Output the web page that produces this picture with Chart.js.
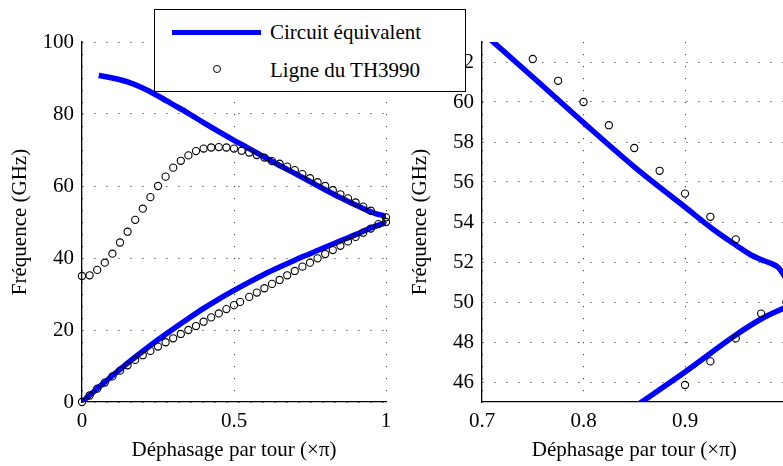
<!DOCTYPE html>
<html>
<head>
<meta charset="utf-8">
<script src="https://cdn.jsdelivr.net/npm/chart.js@4.4.0/dist/chart.umd.min.js"></script>
<style>
  body { margin: 0; width: 783px; height: 466px; overflow: hidden; background: #fff; position: relative;
         font-family: 'Liberation Serif', 'Times New Roman', serif; }
  canvas { position: absolute; top: 0; }
  #leftChart { left: 0; }
  #rightChart { left: 400px; }
  #legendBox { position: absolute; left: 154px; top: 9px; width: 312px; height: 83px; box-sizing: border-box;
               border: 1.5px solid #000; background: #fff; }
  #legendLine { position: absolute; left: 172px; top: 29.5px; width: 89px; height: 5px; background: #0000ff; }
  #legendCircle { position: absolute; left: 212.5px; top: 65px; width: 8px; height: 8px; box-sizing: border-box;
                  border: 1.2px solid #000; border-radius: 50%; }
  .legendText { position: absolute; left: 270px; font-size: 21px; line-height: 21px; white-space: nowrap; color: #000; }
</style>
</head>
<body>
<canvas id="leftChart" width="400" height="466"></canvas>
<canvas id="rightChart" width="400" height="466"></canvas>
<div id="legendBox"></div>
<div id="legendLine"></div>
<span class="legendText" style="top:22px">Circuit équivalent</span>
<div id="legendCircle"></div>
<span class="legendText" style="top:60px">Ligne du TH3990</span>
<script>
// Circuit équivalent : branche haute et branche basse
const lineUpperX = [0.055, 0.1, 0.15, 0.2, 0.25, 0.3, 0.35, 0.4, 0.45, 0.5, 0.55, 0.6, 0.65, 0.7,
  0.75, 0.8, 0.85, 0.9, 0.93, 0.95, 0.965, 0.975, 0.985, 0.992, 1];
const lineUpperY = [90.7, 90.0, 88.9, 87.2, 85.0, 82.6, 80.2, 77.6, 75.1, 72.7, 70.4, 68.0, 65.7, 63.5,
  61.25, 58.97, 56.76, 54.75, 53.55, 52.85, 52.35, 52.12, 51.92, 51.72, 51.15];
const lineLowerX = [0, 0.05, 0.1, 0.15, 0.2, 0.25, 0.3, 0.35, 0.4, 0.45, 0.5, 0.55, 0.6, 0.65, 0.7,
  0.75, 0.8, 0.85, 0.9, 0.95, 0.975, 1];
const lineLowerY = [0, 3.7, 7.3, 10.8, 14.1, 17.3, 20.3, 23.2, 26.0, 28.6, 31.0, 33.3, 35.5, 37.5, 39.4,
  41.2, 43.0, 44.75, 46.5, 48.35, 49.15, 49.75];

// Ligne du TH3990 (cercles)
const circUpperX = [0, 0.025, 0.05, 0.075, 0.1, 0.125, 0.15, 0.175, 0.2, 0.225, 0.25, 0.275, 0.3, 0.325,
  0.35, 0.375, 0.4, 0.425, 0.45, 0.475, 0.5, 0.525, 0.55, 0.575, 0.6, 0.625, 0.65, 0.675, 0.7, 0.725,
  0.75, 0.775, 0.8, 0.825, 0.85, 0.875, 0.9, 0.925, 0.95, 1];
const circUpperY = [35.0, 35.2, 36.7, 38.7, 41.2, 44.3, 47.3, 50.6, 53.7, 56.9, 60.0, 62.6, 65.1, 67.0,
  68.5, 69.7, 70.4, 70.7, 70.8, 70.7, 70.4, 69.8, 69.3, 68.6, 67.9, 66.9, 66.2, 65.4, 64.4, 63.3,
  62.15, 61.06, 60.0, 58.84, 57.7, 56.56, 55.42, 54.26, 53.13, 51.3];
const circLowerX = [0, 0.025, 0.05, 0.075, 0.1, 0.125, 0.15, 0.175, 0.2, 0.225, 0.25, 0.275, 0.3, 0.325,
  0.35, 0.375, 0.4, 0.425, 0.45, 0.475, 0.5, 0.52, 0.55, 0.575, 0.6, 0.625, 0.65, 0.675, 0.7, 0.725,
  0.75, 0.775, 0.8, 0.825, 0.85, 0.875, 0.9, 0.925, 0.95, 0.975, 1];
const circLowerY = [0, 1.8, 3.7, 5.4, 7.1, 8.7, 10.2, 11.7, 13.0, 14.2, 15.4, 16.6, 17.7, 18.9,
  20.0, 21.1, 22.3, 23.5, 24.6, 25.8, 26.9, 27.8, 29.2, 30.4, 31.6, 32.8, 33.9, 35.2, 36.4, 37.6,
  38.7, 39.9, 41.1, 42.2, 43.4, 44.6, 45.85, 47.03, 48.18, 49.42, 50.0];

// Graduations
const leftXTicks = [0, 0.5, 1];
const leftYTicks = [0, 20, 40, 60, 80, 100];
const rightXTicks = [0.7, 0.8, 0.9, 1];
const rightYTicks = [46, 48, 50, 52, 54, 56, 58, 60, 62];

const serif = "'Liberation Serif', 'Times New Roman', serif";
Chart.defaults.color = '#000';
Chart.defaults.font.family = serif;
Chart.defaults.font.size = 21;

function toPoints(xs, ys) {
  return xs.map((x, i) => ({ x: x, y: ys[i] }));
}

function makeDatasets(pointClip) {
  const lineStyle = {
    label: 'Circuit équivalent', showLine: true, borderColor: '#0000ff', borderWidth: 5.5,
    pointRadius: 0, cubicInterpolationMode: 'monotone', borderJoinStyle: 'round', clip: 0, order: 2
  };
  const circleStyle = {
    label: 'Ligne du TH3990', showLine: false, pointRadius: 3.6, borderWidth: 1.1,
    borderColor: '#000', backgroundColor: 'rgba(0,0,0,0)', clip: pointClip, order: 1
  };
  return [
    Object.assign({ data: toPoints(lineUpperX, lineUpperY) }, lineStyle),
    Object.assign({ data: toPoints(lineLowerX, lineLowerY) }, lineStyle),
    Object.assign({ data: toPoints(circUpperX, circUpperY) }, circleStyle),
    Object.assign({ data: toPoints(circLowerX, circLowerY) }, circleStyle)
  ];
}

function axis(pos, min, max, ticks, title) {
  const horiz = pos === 'bottom';
  return {
    type: 'linear', position: pos, min: min, max: max,
    afterBuildTicks: s => { s.ticks = ticks.map(v => ({ value: v })); },
    afterFit: s => { if (horiz) s.height = 64; else s.width = 82; },
    ticks: { padding: horiz ? 7 : 8, autoSkip: false, maxRotation: 0, callback: v => String(v) },
    grid: { color: '#444', lineWidth: 1, drawTicks: false },
    border: { display: true, color: '#000', width: 1.3, dash: [1.2, 10.8] },
    title: { display: true, text: title, padding: horiz ? { top: 0, bottom: 3 } : { top: 8, bottom: 0 } }
  };
}

function buildChart(id, xr, yr, xt, yt, rightPad, pointClip) {
  return new Chart(document.getElementById(id), {
    type: 'scatter',
    data: { datasets: makeDatasets(pointClip) },
    options: {
      responsive: false, animation: false, devicePixelRatio: 1,
      layout: { padding: { left: 0, right: rightPad, top: 42, bottom: 0 } },
      plugins: { legend: { display: false }, tooltip: { enabled: false } },
      scales: {
        x: axis('bottom', xr[0], xr[1], xt, 'Déphasage par tour (×π)'),
        y: axis('left', yr[0], yr[1], yt, 'Fréquence (GHz)')
      }
    }
  });
}

buildChart('leftChart', [0, 1], [0, 100], leftXTicks, leftYTicks, 14, 6);
buildChart('rightChart', [0.7, 1], [45, 63], rightXTicks, rightYTicks, 13.5, 0);
</script>
</body>
</html>
